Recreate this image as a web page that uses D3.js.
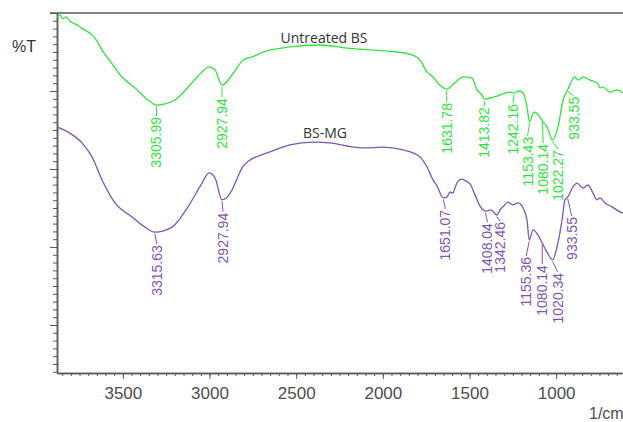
<!DOCTYPE html>
<html>
<head>
<meta charset="utf-8">
<script src="https://cdn.jsdelivr.net/npm/d3@7"></script>
<style>
  html, body { margin: 0; padding: 0; background: #fff; }
  svg { display: block; }
</style>
</head>
<body>
<svg id="chart" width="623" height="422"></svg>
<script>
// FTIR transmittance spectra: wavenumber (1/cm) and %T
const seriesNames = ["Untreated BS", "BS-MG"];

const wnUntreated = [3880, 3863, 3845, 3828, 3805, 3776, 3747, 3718, 3678, 3649, 3620, 3574, 3505, 3430, 3355,
  3305.99, 3257, 3199, 3101, 3043, 3003, 2968, 2927.94, 2870, 2807, 2738, 2691, 2536, 2363, 2207, 2057, 1918,
  1826, 1785, 1745, 1710, 1670, 1631.78, 1584, 1537, 1485, 1457, 1428, 1413.82, 1341, 1266,
  1242.16, 1214, 1191, 1168, 1153.43, 1128, 1093, 1080.14, 1053, 1041, 1022.27, 989, 960, 933.55, 891, 874,
  845, 805, 764, 747, 730, 689, 649, 614];
const tUntreated = [99.0, 99.5, 98.5, 99.0, 97.9, 97.2, 96.4, 95.6, 94.4, 92.8, 90.5, 87.7, 83.6, 80.8, 77.7,
  76.4, 76.7, 77.7, 82.1, 84.9, 86.2, 85.4, 81.5, 84.1, 87.9, 89.0, 90.0, 91.3, 91.8, 91.0, 90.5, 90.0,
  89.2, 87.9, 84.9, 83.6, 81.5, 80.5, 82.1, 83.6, 83.3, 80.3, 79.0, 77.9, 78.7, 79.7,
  79.5, 80.0, 79.5, 75.9, 72.1, 74.6, 73.3, 72.3, 70.8, 69.5, 67.4, 70.8, 77.7, 80.3, 83.6, 82.8,
  83.6, 82.8, 82.1, 80.8, 81.0, 79.7, 80.3, 79.5];

const wnTreated = [3880, 3817, 3736, 3678, 3620, 3545, 3447, 3372, 3315.63, 3216, 3124, 3043, 3003, 2968,
  2927.94, 2870, 2840, 2812, 2766, 2700, 2651, 2536, 2403, 2305, 2207, 2114, 1999, 1884, 1785, 1745, 1710, 1687,
  1651.07, 1630, 1612, 1595, 1584, 1566, 1543, 1514, 1497, 1468, 1439, 1408.04, 1376, 1342.46, 1320, 1307,
  1278, 1249, 1220, 1191, 1168, 1155.36, 1133, 1105, 1080.14, 1053, 1020.34, 995, 966, 949, 933.55, 903,
  880, 845, 816, 787, 764, 747, 718, 678, 632, 614];
const tTreated = [70.8, 69.5, 66.7, 63.1, 57.2, 51.3, 47.7, 45.1, 43.8, 45.1, 50.3, 56.4, 59.0, 57.7,
  52.1, 54.6, 57.7, 60.3, 62.3, 63.6, 64.4, 66.2, 66.9, 66.7, 65.9, 65.4, 65.6, 64.9, 63.1, 60.5, 57.2, 55.6,
  52.6, 52.8, 54.1, 53.8, 55.1, 56.9, 57.4, 56.7, 56.2, 53.3, 50.5, 49.2, 49.5, 48.2, 49.8, 50.3,
  51.5, 50.8, 51.3, 50.0, 46.9, 41.8, 44.4, 43.1, 41.0, 38.7, 36.7, 40.0, 46.9, 52.1, 52.8, 55.4,
  56.4, 55.1, 55.9, 53.8, 52.1, 52.6, 51.3, 50.3, 49.0, 48.7];

// Marked peak positions (1/cm)
const peaksUntreated = [3305.99, 2927.94, 1631.78, 1413.82, 1242.16, 1153.43, 1080.14, 1022.27, 933.55];
const peaksTreated = [3315.63, 2927.94, 1651.07, 1408.04, 1342.46, 1155.36, 1080.14, 1020.34, 933.55];

// Label placement: horizontal shift and drop below the peak, in px
const labelDxUntreated = [0, 0, 0, 0, -1, -2, 1, 6, 6];
const labelGapUntreated = [12, 13, 14, 8, 11, 15, 23, 10, 7];
const labelDxTreated = [2, 1, 2, 2, 3, -3, 0, 5, 4];
const labelGapTreated = [13, 13, 12, 12, 7, 17, 22, 13, 20];

const xMajorTicks = [3500, 3000, 2500, 2000, 1500, 1000];
const xMinorTicks = d3.range(3850, 600, -50);
const yMajorTicks = [100, 80, 60, 40, 20];
const yMinorTicks = d3.range(100, 7, -2);

const colors = ["#2ee53c", "#7e55b6"];
const axisColor = "#5a5a5a";

const svg = d3.select("#chart");
const plotLeft = 57, plotTop = 13, plotBottom = 373, plotRight = 622;

const x = d3.scaleLinear().domain([3880, 620]).range([plotLeft, plotRight]);
const y = d3.scaleLinear().domain([100, 100 - (plotBottom - plotTop) / 3.9]).range([plotTop, plotBottom]);

// Frame line along the top
svg.append("line")
  .attr("x1", plotLeft - 7).attr("x2", 623)
  .attr("y1", plotTop).attr("y2", plotTop)
  .attr("stroke", axisColor).attr("stroke-width", 1.5);

// Y axis: unlabeled ticks
const yMinor = svg.append("g").attr("transform", `translate(${plotLeft},0)`)
  .call(d3.axisLeft(y).tickValues(yMinorTicks).tickSize(4).tickSizeOuter(0).tickFormat(""));
const yMajor = svg.append("g").attr("transform", `translate(${plotLeft},0)`)
  .call(d3.axisLeft(y).tickValues(yMajorTicks).tickSize(7).tickSizeOuter(0).tickFormat(""));

// X axis
const xMinor = svg.append("g").attr("transform", `translate(0,${plotBottom})`)
  .call(d3.axisBottom(x).tickValues(xMinorTicks).tickSize(3).tickSizeOuter(0).tickFormat(""));
const xMajor = svg.append("g").attr("transform", `translate(0,${plotBottom})`)
  .call(d3.axisBottom(x).tickValues(xMajorTicks).tickSize(6).tickSizeOuter(0).tickPadding(8)
    .tickFormat(d3.format("d")));

[yMinor, yMajor, xMinor, xMajor].forEach(g => {
  g.selectAll("path.domain").attr("stroke", axisColor).attr("stroke-width", 1.5);
  g.selectAll(".tick line").attr("stroke", axisColor).attr("stroke-width", 1);
});
xMajor.selectAll(".tick text")
  .attr("fill", "#4d4d4d")
  .style("font-family", "Arial, 'Liberation Sans', sans-serif")
  .style("font-size", "17px");

svg.append("text")
  .attr("x", 589).attr("y", 419)
  .attr("fill", "#4d4d4d")
  .style("font-family", "Arial, 'Liberation Sans', sans-serif")
  .style("font-size", "16px")
  .text("1/cm");

svg.append("text")
  .attr("x", 12).attr("y", 52)
  .attr("fill", "#333")
  .style("font-family", "Arial, 'Liberation Sans', sans-serif")
  .style("font-size", "16px")
  .text("%T");

// Spectra
const series = [
  { wn: wnUntreated, t: tUntreated, peaks: peaksUntreated, dx: labelDxUntreated, gap: labelGapUntreated },
  { wn: wnTreated, t: tTreated, peaks: peaksTreated, dx: labelDxTreated, gap: labelGapTreated }
];

const line = d3.line()
  .x(d => x(d[0]))
  .y(d => y(d[1]))
  .curve(d3.curveMonotoneX);

const plot = svg.append("g");
series.forEach((s, i) => {
  const pts = s.wn.map((w, k) => [w, s.t[k]]);
  plot.append("path")
    .datum(pts)
    .attr("fill", "none")
    .attr("stroke", colors[i])
    .attr("stroke-width", 1.3)
    .attr("stroke-linejoin", "round")
    .attr("d", line);

  // Peak labels with short leaders
  s.peaks.forEach((p, k) => {
    const idx = s.wn.indexOf(p);
    const px = x(p), py = y(s.t[idx]);
    const tx = px + s.dx[k], ty = py + s.gap[k];
    plot.append("line")
      .attr("x1", px).attr("y1", py + 1.5)
      .attr("x2", tx).attr("y2", ty - 1)
      .attr("stroke", colors[i]).attr("stroke-width", 1);
    plot.append("text")
      .attr("transform", `translate(${tx},${ty}) rotate(-90)`)
      .attr("text-anchor", "end")
      .attr("dominant-baseline", "central")
      .attr("fill", colors[i])
      .style("font-family", "Arial, 'Liberation Sans', sans-serif")
      .style("font-size", "14px")
      .text(d3.format(".2f")(p));
  });
});

// Series names
const nameX = [324, 325];
const nameT = [92.3, 67.9];
seriesNames.forEach((n, i) => {
  svg.append("text")
    .attr("x", nameX[i]).attr("y", y(nameT[i]))
    .attr("text-anchor", "middle")
    .attr("fill", "#333")
    .style("font-family", "'Open Sans', sans-serif")
    .style("font-size", "14px")
    .text(n);
});
</script>
</body>
</html>
